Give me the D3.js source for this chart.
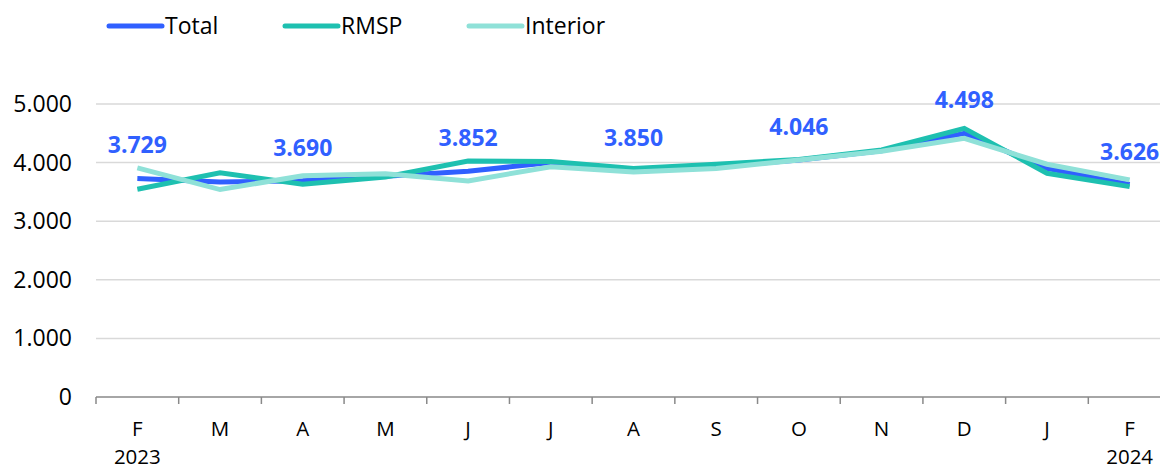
<!DOCTYPE html>
<html>
<head>
<meta charset="utf-8">
<script src="https://cdn.jsdelivr.net/npm/d3@7"></script>
<style>
  body { margin: 0; background: #fff; }
  svg { display: block; font-family: "Open Sans", sans-serif; }
  .tick-label { font-size: 23px; fill: #000; }
  .x-label { font-size: 20.5px; fill: #000; }
  .legend-text { font-size: 23px; fill: #000; }
  .value-label { font-size: 23px; font-weight: 700; fill: #3060ff; }
</style>
</head>
<body>
<div id="wrapper"></div>
<script>
// data
const months = ["F", "M", "A", "M", "J", "J", "A", "S", "O", "N", "D", "J", "F"];
const years = ["2023", "", "", "", "", "", "", "", "", "", "", "", "2024"];
const total =    [3729, 3670, 3690, 3765, 3852, 4000, 3850, 3930, 4046, 4200, 4498, 3900, 3626];
const rmsp =     [3545, 3825, 3630, 3755, 4027, 4020, 3900, 3970, 4055, 4215, 4585, 3818, 3590];
const interior = [3910, 3540, 3775, 3810, 3687, 3930, 3840, 3900, 4045, 4195, 4415, 3972, 3705];
const labelIdx = [0, 2, 4, 6, 8, 10, 12];
const yTicks = [0, 1000, 2000, 3000, 4000, 5000];

const seriesNames = ["Total", "RMSP", "Interior"];
const seriesValues = [total, rmsp, interior];
const seriesColors = ["#3060ff", "#1ec0b0", "#8fe1d8"];

const width = 1160;
const height = 471;

const svg = d3.select("#wrapper")
  .append("svg")
    .attr("width", width)
    .attr("height", height);

const xScale = d3.scaleBand()
  .domain(d3.range(months.length))
  .range([96, 1171]);

const yScale = d3.scaleLinear()
  .domain([0, 5000])
  .range([397, 104]);

const fmt = v => d3.format(",")(v).replace(/,/g, ".");

// gridlines
svg.append("g")
  .selectAll("line")
  .data(yTicks.filter(d => d > 0))
  .join("line")
    .attr("x1", 96)
    .attr("x2", width)
    .attr("y1", d => yScale(d))
    .attr("y2", d => yScale(d))
    .attr("stroke", "#d9d9d9")
    .attr("stroke-width", 1.5);

// y labels
svg.append("g")
  .selectAll("text")
  .data(yTicks)
  .join("text")
    .attr("class", "tick-label")
    .attr("x", 72)
    .attr("y", d => yScale(d))
    .attr("dy", "0.35em")
    .attr("text-anchor", "end")
    .text(d => fmt(d));

// x axis
svg.append("line")
  .attr("x1", 96)
  .attr("x2", width)
  .attr("y1", yScale(0))
  .attr("y2", yScale(0))
  .attr("stroke", "#898989")
  .attr("stroke-width", 1.5);

svg.append("g")
  .selectAll("line")
  .data(d3.range(months.length + 1))
  .join("line")
    .attr("x1", d => 96 + d * xScale.step())
    .attr("x2", d => 96 + d * xScale.step())
    .attr("y1", yScale(0))
    .attr("y2", yScale(0) + 7)
    .attr("stroke", "#898989")
    .attr("stroke-width", 1.5);

svg.append("g")
  .selectAll("text")
  .data(months)
  .join("text")
    .attr("class", "x-label")
    .attr("x", (d, i) => xScale(i) + xScale.bandwidth() / 2)
    .attr("y", 436)
    .attr("text-anchor", "middle")
    .text(d => d);

svg.append("g")
  .selectAll("text")
  .data(years)
  .join("text")
    .attr("class", "x-label")
    .attr("x", (d, i) => xScale(i) + xScale.bandwidth() / 2)
    .attr("y", 464)
    .attr("text-anchor", "middle")
    .text(d => d);

// lines
const lineGenerator = d3.line()
  .x((d, i) => xScale(i) + xScale.bandwidth() / 2)
  .y(d => yScale(d));

svg.append("g")
  .selectAll("path")
  .data(seriesValues)
  .join("path")
    .attr("d", lineGenerator)
    .attr("fill", "none")
    .attr("stroke", (d, i) => seriesColors[i])
    .attr("stroke-width", 5)
    .attr("stroke-linejoin", "miter");

// value labels
svg.append("g")
  .selectAll("text")
  .data(labelIdx)
  .join("text")
    .attr("class", "value-label")
    .attr("x", i => xScale(i) + xScale.bandwidth() / 2)
    .attr("y", i => yScale(total[i]) - 25)
    .attr("text-anchor", "middle")
    .text(i => fmt(total[i]));

// legend
const legendX = [107, 283, 467];
const legend = svg.append("g")
  .selectAll("g")
  .data(seriesNames)
  .join("g")
    .attr("transform", (d, i) => `translate(${legendX[i]}, 26)`);

legend.append("line")
  .attr("x1", 2)
  .attr("x2", 55)
  .attr("stroke", (d, i) => seriesColors[i])
  .attr("stroke-width", 5)
  .attr("stroke-linecap", "round");

legend.append("text")
  .attr("class", "legend-text")
  .attr("x", 58)
  .attr("dy", "0.35em")
  .text(d => d);
</script>
</body>
</html>
